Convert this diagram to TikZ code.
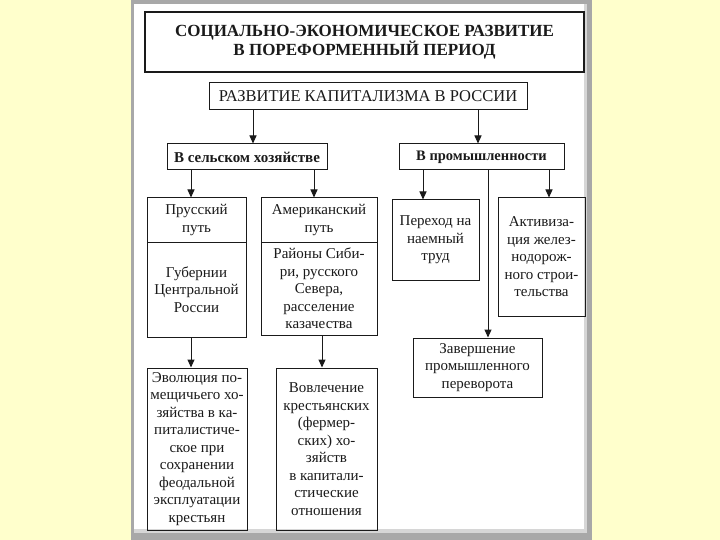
\documentclass[tikz,border=0pt]{standalone}
\usepackage{fontspec}
\setmainfont{Liberation Serif}
\usetikzlibrary{arrows.meta}
\definecolor{bgyellow}{HTML}{FFFFCC}
\definecolor{framegray}{HTML}{A8A8A8}
\definecolor{framelight}{HTML}{D6D6D6}
\definecolor{ink}{HTML}{1A1A1A}
\tikzset{
  bx/.style={draw=ink, line width=1pt, align=center, inner sep=0pt, text=ink,
    font=\fontsize{15}{17.5}\selectfont},
  bxb/.style={bx, font=\fontsize{15}{17.5}\selectfont\bfseries},
  arr/.style={draw=ink, line width=1pt, -{Triangle[length=8pt,width=7pt]}},
}
\begin{document}
\begin{tikzpicture}[x=1pt,y=-1pt]
\useasboundingbox (0,0) rectangle (720,540);
% background and page frame
\fill[bgyellow] (0,0) rectangle (720,540);
\fill[framegray] (131,0) rectangle (592,540);
\fill[framelight] (134,4) rectangle (587,533);
\fill[white] (134,4) rectangle (584,529);
% nodes
\node[bxb, line width=1.6pt, minimum width=439pt, minimum height=60pt,
  font=\fontsize{17}{18.5}\selectfont\bfseries] (title) at (364.5,42)
  {СОЦИАЛЬНО-ЭКОНОМИЧЕСКОЕ РАЗВИТИЕ\\В ПОРЕФОРМЕННЫЙ ПЕРИОД};
\node[bx, minimum width=318pt, minimum height=27pt,
  font=\fontsize{16.5}{18}\selectfont] (kap) at (368,96.5)
  {РАЗВИТИЕ КАПИТАЛИЗМА В РОССИИ};
\node[bxb, minimum width=160pt, minimum height=26pt,
  font=\fontsize{15}{16}\selectfont\bfseries] (sel) at (247,157) {В сельском хозяйстве};
\node[bxb, minimum width=165pt, minimum height=26pt,
  font=\fontsize{14.5}{16}\selectfont\bfseries] (prom) at (481.5,157) {В промышленности};
\node[bx, minimum width=99pt, minimum height=44pt] (pr1) at (196.5,220) {Прусский\\путь};
\node[bx, minimum width=99pt, minimum height=95pt] (pr2) at (196.5,289.5)
  {Губернии\\Центральной\\России};
\node[bx, minimum width=116pt, minimum height=44pt] (am1) at (319,220) {Американский\\путь};
\node[bx, minimum width=116pt, minimum height=93pt] (am2) at (319,288.5)
  {Районы Сиби-\\ри, русского\\Севера,\\расселение\\казачества};
\node[bx, minimum width=87pt, minimum height=80pt] (per) at (435.5,240)
  {Переход на\\наемный\\труд};
\node[bx, minimum width=87pt, minimum height=118pt] (akt) at (541.5,257)
  {Активиза-\\ция желез-\\нодорож-\\ного строи-\\тельства};
\node[bx, minimum width=129pt, minimum height=59pt] (zav) at (477.5,367.5)
  {Завершение\\промышленного\\переворота};
\node[bx, minimum width=100pt, minimum height=162pt] (evol) at (197,449)
  {Эволюция по-\\мещичьего хо-\\зяйства в ка-\\питалистиче-\\ское при\\сохранении\\феодальной\\эксплуатации\\крестьян};
\node[bx, minimum width=101pt, minimum height=162pt] (vovl) at (326.5,449)
  {Вовлечение\\крестьянских\\(фермер-\\ских) хо-\\зяйств\\в капитали-\\стические\\отношения};
% connectors
\draw[arr] ([xshift=-115pt]kap.south) -- ([xshift=6pt]sel.north);
\draw[arr] ([xshift=110pt]kap.south) -- ([xshift=-3.5pt]prom.north);
\draw[arr] ([xshift=-56pt]sel.south) -- ([xshift=-5.5pt]pr1.north);
\draw[arr] ([xshift=67pt]sel.south) -- ([xshift=-5pt]am1.north);
\draw[arr] ([xshift=-58.5pt]prom.south) -- ([xshift=-12.5pt]per.north);
\draw[arr] ([xshift=6.5pt]prom.south) -- ([xshift=10.5pt]zav.north);
\draw[arr] ([xshift=67.5pt]prom.south) -- ([xshift=7.5pt]akt.north);
\draw[arr] ([xshift=-5.5pt]pr2.south) -- ([xshift=-6pt]evol.north);
\draw[arr] ([xshift=3pt]am2.south) -- ([xshift=-4.5pt]vovl.north);
\end{tikzpicture}
\end{document}
